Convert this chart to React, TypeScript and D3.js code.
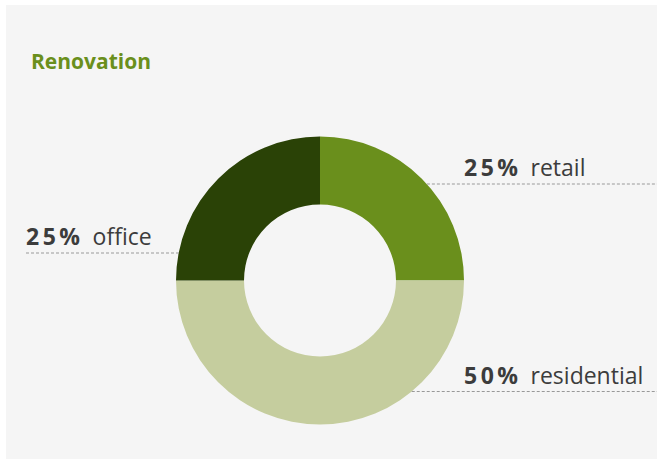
import React from "react";
import * as d3 from "d3";

const title = "Renovation";
const categories = ["retail", "residential", "office"];
const values = [25, 50, 25];
const colors = ["#6a8f1c", "#c5cd9e", "#2a4206"];

const W = 657;
const H = 459;

export default function App() {
  const cx = 320;
  const cy = 280.5;
  const rOuter = 144;
  const rInner = 76;
  const pie = d3.pie<number>().sort(null).value((d) => d)(values);
  const arc = d3.arc<d3.PieArcDatum<number>>().innerRadius(rInner).outerRadius(rOuter);
  const total = d3.sum(values);

  const labelLayout = [
    { y: 184, side: "right", textX: 464 },
    { y: 391.5, side: "right", textX: 464 },
    { y: 253, side: "left", textX: 26 },
  ];

  return (
    <svg
      width={W}
      height={H}
      style={{ position: "absolute", left: 0, top: 0 }}
      fontFamily="'Open Sans', sans-serif"
    >
      <rect x={6} y={5} width={W - 6} height={H - 5} fill="#f5f5f5" />
      <text x={31} y={69} fill="#6a8f1c" fontWeight="bold" fontSize={21}>
        {title}
      </text>
      <g transform={`translate(${cx},${cy})`}>
        {pie.map((p, i) => (
          <path key={i} d={arc(p) || ""} fill={colors[i]} />
        ))}
      </g>
      {categories.map((c, i) => {
        const L = labelLayout[i];
        const dy = L.y - cy;
        const dx = Math.sqrt(Math.max(0, rOuter * rOuter - dy * dy));
        const x1 = L.side === "right" ? cx + dx : 26;
        const x2 = L.side === "right" ? W : cx - dx;
        const pct = Math.round((values[i] / total) * 100);
        return (
          <g key={c}>
            <line x1={x1} x2={x2} y1={L.y} y2={L.y} stroke="#999" strokeWidth={1} strokeDasharray="3,2" />
            <text x={L.textX} y={L.y - 8} fill="#3c3c3c" fontSize={23}>
              <tspan fontWeight="bold" letterSpacing={3.5}>{pct}%</tspan>
              <tspan dx={9}>{c}</tspan>
            </text>
          </g>
        );
      })}
    </svg>
  );
}
